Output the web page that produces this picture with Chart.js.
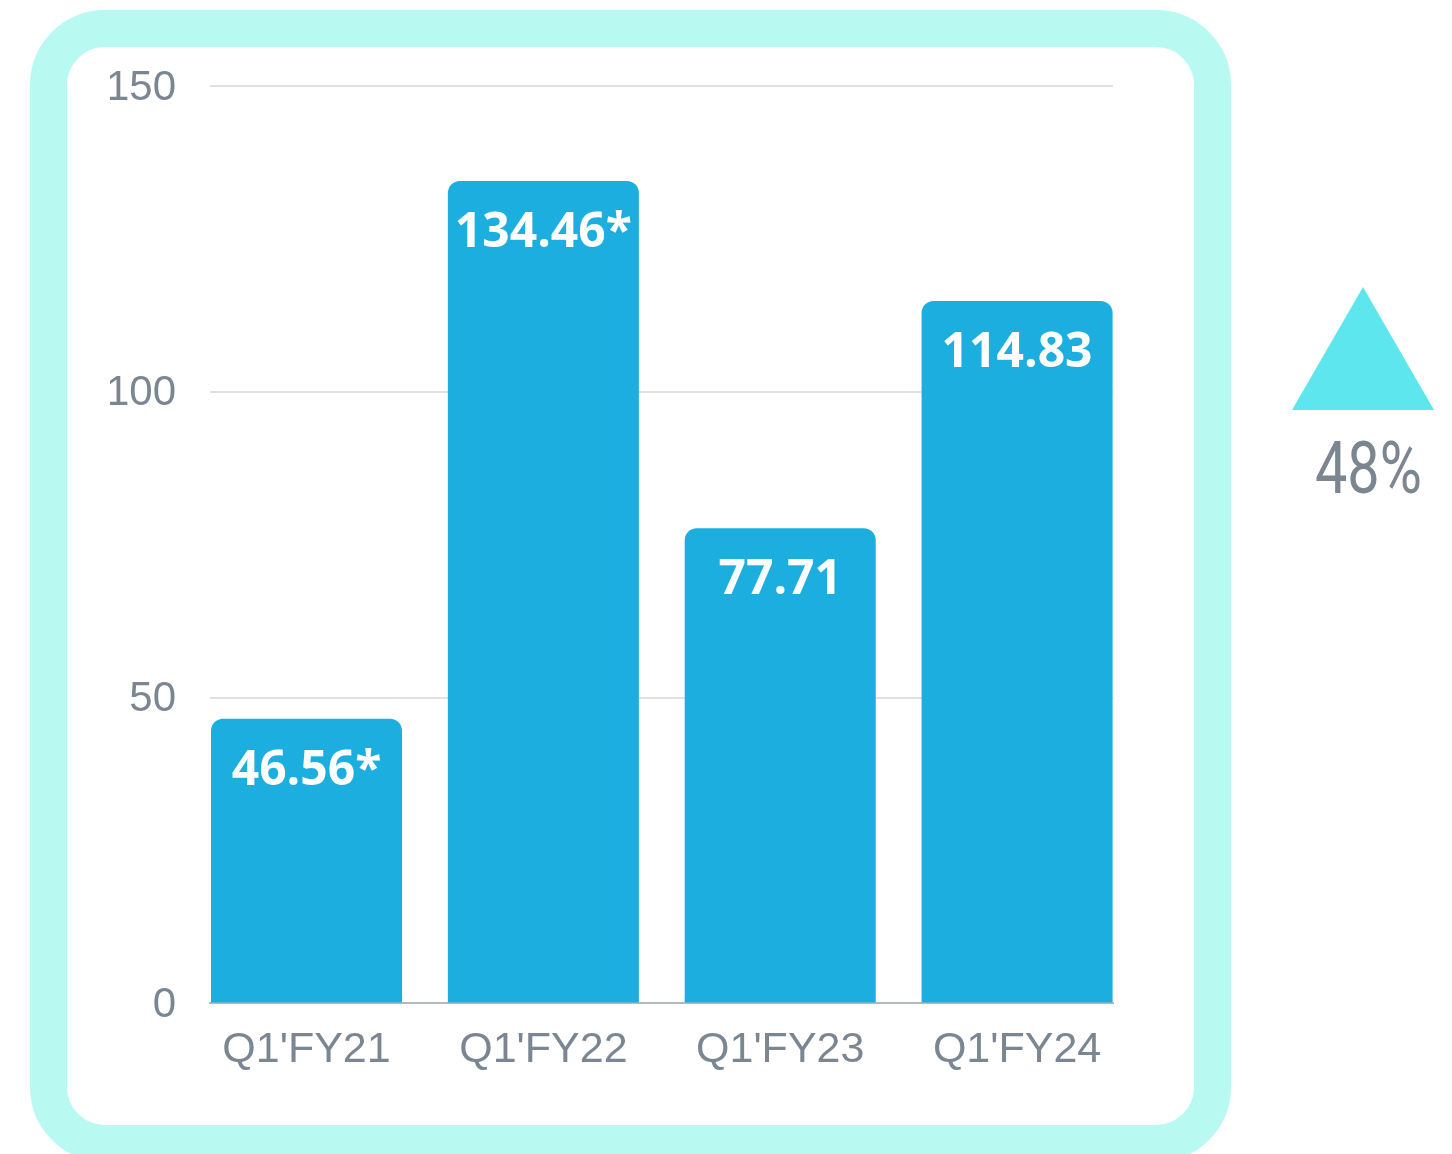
<!DOCTYPE html>
<html>
<head>
<meta charset="utf-8">
<script src="https://cdn.jsdelivr.net/npm/chart.js@4/dist/chart.umd.min.js"></script>
<style>
  html, body { margin: 0; padding: 0; background: #fff; }
  body { width: 1452px; height: 1154px; position: relative; overflow: hidden; }
  .frame {
    position: absolute; left: 30px; top: 10px; width: 1127px; height: 1078px;
    border: 37px solid #b8faf2; border-radius: 75px; background: #fff;
  }
  .wrap { position: absolute; left: 0; top: 0; width: 1452px; height: 1154px; }
  .arrow {
    position: absolute; left: 1292px; top: 287px; width: 142px; height: 123px;
    background: #5de6ee; clip-path: polygon(0 100%, 50% 0, 100% 100%);
  }
  .growth {
    position: absolute; left: 1315px; top: 433px; font: 72px Roboto, sans-serif;
    line-height: 1; color: #7b8690; transform: scaleX(0.8); transform-origin: left top;
    white-space: nowrap;
  }
</style>
</head>
<body>
<div class="frame"></div>
<div class="wrap"><canvas id="myChart" width="1452" height="1154"></canvas></div>
<div class="arrow"></div>
<div class="growth">48%</div>
<script>
var quarters = ["Q1'FY21", "Q1'FY22", "Q1'FY23", "Q1'FY24"];
var revenue = [46.56, 134.46, 77.71, 114.83];
var marks = ['*', '*', '', ''];
var yTicks = [0, 50, 100, 150];

// value labels written inside the top of each bar
var barLabels = {
    id: 'barLabels',
    afterDatasetsDraw: function(chart) {
        var ctx = chart.ctx;
        var meta = chart.getDatasetMeta(0);
        ctx.save();
        ctx.fillStyle = '#ffffff';
        ctx.font = 'bold 48px "Open Sans", sans-serif';
        ctx.textAlign = 'center';
        ctx.textBaseline = 'alphabetic';
        meta.data.forEach(function(bar, i) {
            ctx.fillText(revenue[i].toFixed(2) + marks[i], bar.x, bar.y + 66);
        });
        ctx.restore();
    }
};

var tickColor = '#7a8692';
var ctx = document.getElementById('myChart');
new Chart(ctx, {
    type: 'bar',
    data: {
        datasets: [{
            data: revenue.map(function(v, i) { return { x: i, y: v }; }),
            backgroundColor: '#1daee0',
            borderRadius: 12,
            borderSkipped: 'start',
            barPercentage: 0.8065,
            categoryPercentage: 1
        }]
    },
    options: {
        responsive: false,
        animation: false,
        layout: { padding: { left: 110, top: 86, right: 339, bottom: 65 } },
        plugins: { legend: { display: false }, tooltip: { enabled: false } },
        scales: {
            // numeric x so the outer bars sit flush with the plot edges
            x: {
                type: 'linear',
                min: -0.4075,
                max: 3.405,
                bounds: 'data',
                offset: false,
                afterBuildTicks: function(scale) {
                    scale.ticks = quarters.map(function(q, i) { return { value: i }; });
                },
                grid: { display: false, offset: false },
                border: { display: true, color: '#b4b9bf', width: 2 },
                ticks: {
                    color: tickColor, padding: 13,
                    font: { family: '"Liberation Sans", Arial', size: 43 },
                    callback: function(v) { return quarters[v]; }
                }
            },
            y: {
                min: 0,
                max: 150,
                afterFit: function(scale) { scale.width = 100; },
                afterBuildTicks: function(scale) {
                    scale.ticks = yTicks.map(function(v) { return { value: v }; });
                },
                grid: { color: '#dfe1e5', lineWidth: 2, drawTicks: false },
                border: { display: false },
                ticks: {
                    color: tickColor, padding: 34, labelOffset: 2,
                    font: { family: '"Liberation Sans", Arial', size: 42 }
                }
            }
        }
    },
    plugins: [barLabels]
});
</script>
</body>
</html>
